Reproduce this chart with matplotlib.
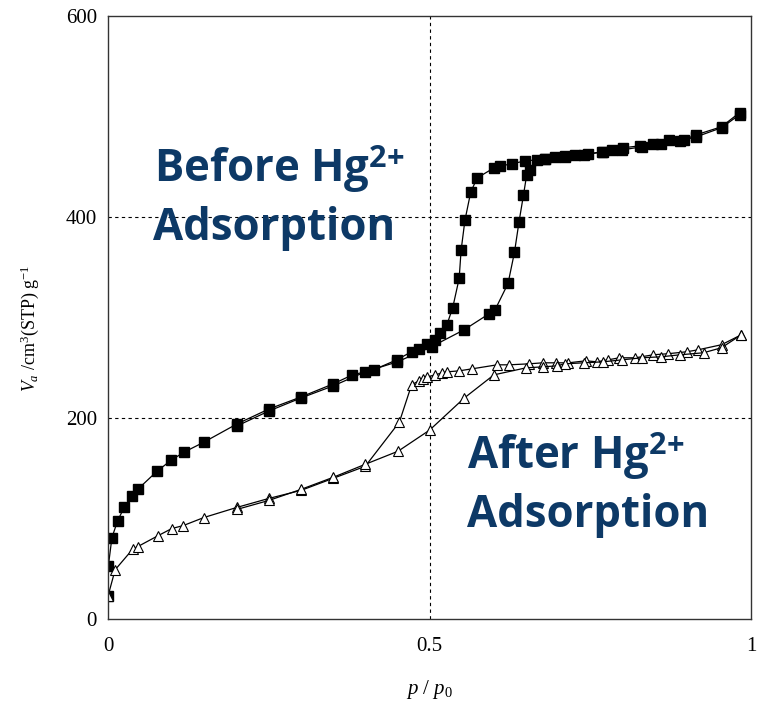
# -*- coding: utf-8 -*-
"""
N2 isotherms before / after Hg2+ adsorption
"""
#%% Import libraries
import matplotlib
matplotlib.use("Agg")
import matplotlib.pyplot as plt

#%% Data
# Before Hg2+ adsorption, adsorption branch
before_ads_x = [0.0, 0.0005, 0.006, 0.015, 0.025, 0.037, 0.046, 0.076, 0.098, 0.118,
                0.149, 0.200, 0.250, 0.300, 0.350, 0.380, 0.413, 0.449, 0.472, 0.484,
                0.496, 0.508, 0.516, 0.527, 0.536, 0.546, 0.549, 0.555, 0.564, 0.574,
                0.600, 0.610, 0.628, 0.648, 0.667, 0.680, 0.695, 0.711, 0.726, 0.747,
                0.768, 0.783, 0.801, 0.827, 0.848, 0.872, 0.895, 0.915, 0.954, 0.982]
before_ads_y = [23, 53, 81, 98, 111, 122, 129, 147, 158, 166,
                176, 194, 209, 221, 234, 243, 248, 258, 266, 269,
                274, 278, 285, 293, 310, 339, 367, 397, 425, 439,
                449, 451, 453, 456, 457, 458, 460, 461, 462, 463,
                465, 467, 469, 471, 473, 477, 477, 482, 490, 504]
# Before Hg2+ adsorption, desorption branch
before_des_x = [0.982, 0.954, 0.915, 0.890, 0.860, 0.830, 0.800, 0.770, 0.740, 0.710,
                0.680, 0.656, 0.651, 0.646, 0.639, 0.632, 0.622, 0.602, 0.593, 0.554,
                0.503, 0.450, 0.400, 0.350, 0.300, 0.250, 0.200]
before_des_y = [502, 489, 480, 476, 473, 470, 467, 465, 462, 460,
                458, 447, 442, 422, 395, 365, 334, 308, 304, 288,
                271, 256, 246, 232, 220, 207, 192]

# After Hg2+ adsorption, adsorption branch
after_ads_x = [0.0, 0.011, 0.039, 0.046, 0.078, 0.099, 0.117, 0.149, 0.200, 0.250,
               0.300, 0.350, 0.400, 0.453, 0.472, 0.483, 0.490, 0.496, 0.509, 0.519,
               0.527, 0.546, 0.566, 0.605, 0.624, 0.655, 0.676, 0.697, 0.716, 0.743,
               0.760, 0.778, 0.795, 0.820, 0.848, 0.870, 0.900, 0.918, 0.954, 0.985]
after_ads_y = [23, 49, 70, 72, 83, 90, 93, 101, 111, 120,
               128, 140, 152, 196, 233, 237, 239, 241, 243, 245,
               246, 247, 249, 253, 253, 254, 255, 255, 255, 257,
               256, 258, 260, 260, 263, 264, 266, 268, 273, 283]
# After Hg2+ adsorption, desorption branch
after_des_x = [0.985, 0.954, 0.926, 0.890, 0.860, 0.830, 0.800, 0.770, 0.740, 0.710,
               0.698, 0.677, 0.650, 0.600, 0.554, 0.500, 0.451, 0.400, 0.350, 0.300,
               0.250, 0.200]
after_des_y = [283, 270, 265, 263, 261, 260, 258, 256, 255, 254,
               252, 251, 250, 243, 220, 188, 167, 154, 141, 129,
               118, 109]

x_ticks = [0, 0.5, 1]
x_ticklabels = ["0", "0.5", "1"]
y_ticks = [0, 200, 400, 600]

#%% Fonts
plt.rcParams['font.family'] = ['Liberation Serif', 'DejaVu Serif']
plt.rcParams['mathtext.fontset'] = 'custom'
plt.rcParams['mathtext.rm'] = 'Liberation Serif'
plt.rcParams['mathtext.it'] = 'Liberation Serif:italic'
plt.rcParams['mathtext.bf'] = 'Open Sans:bold'

#%% Plot
fig = plt.figure(figsize=(7.61, 7.05), dpi=100)
ax = fig.add_axes([0.142, 0.122, 0.845, 0.855])

sq = dict(marker='s', color='black', mfc='black', mec='black', ms=7.8, lw=0.9)
tri = dict(marker='^', color='black', mfc='white', mec='black', ms=7.8, mew=0.8, lw=0.9)

ax.plot(before_ads_x, before_ads_y, **sq)
ax.plot(before_des_x, before_des_y, **sq)
ax.plot(after_ads_x, after_ads_y, **tri)
ax.plot(after_des_x, after_des_y, **tri)

ax.set_xlim(0, 1)
ax.set_ylim(0, 600)
ax.set_xticks(x_ticks)
ax.set_xticklabels(x_ticklabels)
ax.set_yticks(y_ticks)
ax.tick_params(length=0, labelsize=15)
ax.tick_params(axis='x', pad=13)
ax.tick_params(axis='y', pad=8)

# dashed reference lines
ax.axvline(0.5, color='black', ls=(0, (3, 3)), lw=0.8, zorder=0)
for yv in [200, 400]:
    ax.axhline(yv, color='black', ls=(0, (3, 3)), lw=0.8, zorder=0)

for s in ax.spines.values():
    s.set_linewidth(1.0)
    s.set_color('#333333')

ax.set_xlabel("$p$ / $p_0$", fontsize=15, labelpad=16)
ax.set_ylabel("$V_a$ /cm$^3$(STP) g$^{-1}$", fontsize=13)
ax.yaxis.set_label_coords(-0.105, 0.483)

# annotations, one line at a time
navy = '#0d3966'
txt = dict(fontsize=31.5, family='Open Sans', weight='bold', color=navy,
           ha='left', va='baseline')
ax.text(0.072, 435, "Before Hg$^{\\mathbf{2{+}}}$", **txt)
ax.text(0.070, 377, "Adsorption", **txt)
ax.text(0.558, 149, "After Hg$^{\\mathbf{2{+}}}$", **txt)
ax.text(0.558, 92, "Adsorption", **txt)

fig.savefig("out.png", dpi=100)
